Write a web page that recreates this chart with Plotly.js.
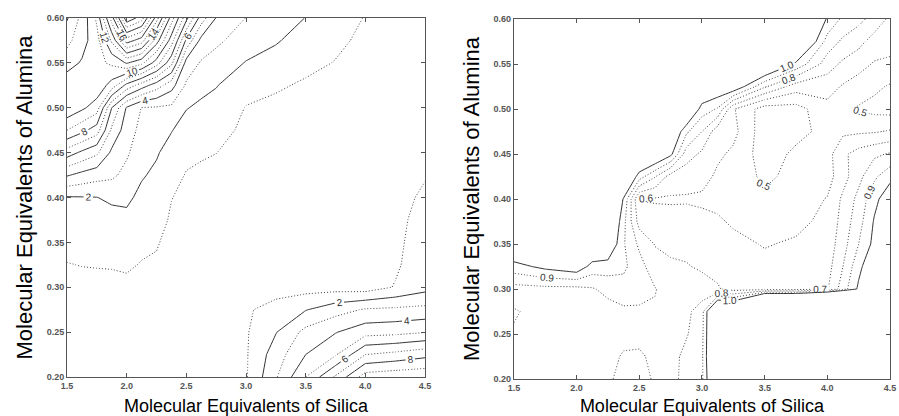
<!DOCTYPE html>
<html>
<head>
<meta charset="utf-8">
<script src="https://cdn.plot.ly/plotly-3.0.1.min.js"></script>
<style>html,body{margin:0;padding:0;background:#fff;}#chart{width:899px;height:416px;}</style>
</head>
<body>
<div id="chart"></div>
<script>
// ---------- Left chart data (response surface, levels 1..20) ----------
var leftX = [1.5, 1.625, 1.75, 1.875, 2.0, 2.125, 2.25, 2.375, 2.5, 2.625, 2.75, 3.0, 3.25, 3.5, 3.75, 4.0, 4.25, 4.5];
var leftY = [0.20, 0.225, 0.25, 0.275, 0.30, 0.325, 0.35, 0.375, 0.40, 0.425, 0.45, 0.475, 0.50, 0.525, 0.55, 0.575, 0.60];
var leftZ = [
  [0.5, 0.5, 0.48, 0.46, 0.45, 0.42, 0.4, 0.38, 0.37, 0.36, 0.35, 0.9, 2.9, 5.0, 7.15, 9.5, 9.7, 9.8],
  [0.55, 0.52, 0.5, 0.48, 0.47, 0.44, 0.42, 0.4, 0.38, 0.37, 0.36, 0.9, 2.5, 4.0, 4.9, 7.0, 7.3, 7.7],
  [0.6, 0.57, 0.55, 0.52, 0.5, 0.47, 0.45, 0.42, 0.4, 0.38, 0.37, 0.9, 1.95, 3.3, 3.95, 4.6, 4.7, 4.95],
  [0.65, 0.64, 0.62, 0.6, 0.58, 0.55, 0.52, 0.48, 0.44, 0.41, 0.39, 0.88, 1.35, 1.95, 2.6, 3.1, 3.2, 3.3],
  [0.75, 0.78, 0.78, 0.8, 0.8, 0.75, 0.7, 0.62, 0.55, 0.5, 0.45, 0.6, 0.6, 0.6, 0.6, 0.5, 1.06, 1.65],
  [0.97, 1.02, 1.04, 1.05, 1.12, 0.95, 0.92, 0.75, 0.62, 0.56, 0.5, 0.55, 0.5, 0.5, 0.48, 0.45, 0.85, 1.6],
  [1.25, 1.28, 1.3, 1.3, 1.4, 1.2, 1.05, 0.82, 0.68, 0.62, 0.55, 0.55, 0.5, 0.48, 0.46, 0.44, 0.8, 1.45],
  [1.55, 1.58, 1.6, 1.6, 1.75, 1.45, 1.3, 0.9, 0.75, 0.68, 0.6, 0.57, 0.5, 0.48, 0.46, 0.44, 0.78, 1.3],
  [1.92, 1.95, 1.98, 2.2, 2.2, 1.75, 1.55, 1.02, 0.83, 0.75, 0.68, 0.6, 0.52, 0.5, 0.47, 0.45, 0.76, 1.12],
  [4.1, 3.7, 3.4, 3.2, 2.7, 2.1, 1.8, 1.3, 0.95, 0.87, 0.8, 0.65, 0.56, 0.53, 0.5, 0.47, 0.75, 0.95],
  [6.5, 5.8, 5.2, 3.8, 3.15, 2.4, 2.1, 1.6, 1.2, 1.08, 1.01, 0.72, 0.62, 0.58, 0.54, 0.5, 0.72, 0.88],
  [9.0, 8.3, 7.5, 4.8, 3.5, 2.7, 2.5, 2.05, 1.55, 1.4, 1.3, 0.82, 0.7, 0.65, 0.6, 0.54, 0.7, 0.82],
  [10.8, 10.2, 9.5, 6.0, 3.9, 2.97, 2.9, 2.8, 2.05, 1.8, 1.65, 0.96, 0.82, 0.75, 0.68, 0.6, 0.7, 0.78],
  [10.6, 10.7, 10.7, 9.6, 7.7, 6.5, 5.5, 4.4, 2.85, 2.3, 2.05, 1.35, 1.1, 0.9, 0.8, 0.67, 0.7, 0.75],
  [9.6, 10.1, 10.7, 11.2, 12.1, 11.3, 9.5, 7.3, 3.6, 2.9, 2.6, 1.95, 1.6, 1.2, 0.97, 0.75, 0.72, 0.72],
  [8.7, 9.6, 10.6, 13.2, 16.5, 15.5, 12.5, 9.5, 5.8, 3.7, 3.2, 2.5, 2.1, 1.55, 1.15, 0.85, 0.75, 0.7],
  [7.9, 9.3, 11.2, 15.5, 20.8, 19.5, 15.5, 11.5, 8.3, 5.5, 3.95, 2.98, 2.5, 1.98, 1.4, 0.96, 0.78, 0.7]
];

// ---------- Right chart data (levels 0.5..1.0) ----------
var rightX = [1.5, 1.75, 2.0, 2.125, 2.25, 2.375, 2.5, 2.625, 2.75, 2.875, 3.0, 3.125, 3.25, 3.5, 3.75, 4.0, 4.125, 4.25, 4.375, 4.5];
var rightY = [0.20, 0.225, 0.25, 0.275, 0.30, 0.325, 0.35, 0.375, 0.40, 0.425, 0.45, 0.475, 0.50, 0.525, 0.55, 0.575, 0.60];
var rightZ = [
  [0.72, 0.74, 0.73, 0.73, 0.72, 0.66, 0.64, 0.72, 0.76, 0.84, 0.88, 1.25, 1.3, 2.4, 2.4, 3.0, 3.0, 2.5, 2.0, 1.5],
  [0.72, 0.74, 0.73, 0.73, 0.73, 0.69, 0.68, 0.73, 0.76, 0.83, 0.88, 1.3, 1.3, 2.4, 2.4, 3.0, 3.0, 2.5, 2.0, 1.5],
  [0.71, 0.74, 0.73, 0.74, 0.74, 0.73, 0.74, 0.75, 0.75, 0.79, 0.87, 1.3, 1.3, 2.4, 2.4, 3.0, 3.0, 2.5, 2.0, 1.5],
  [0.69, 0.74, 0.74, 0.75, 0.76, 0.78, 0.78, 0.79, 0.76, 0.77, 0.86, 1.3, 1.3, 2.4, 2.4, 3.0, 3.0, 2.2, 1.8, 1.5],
  [0.76, 0.77, 0.77, 0.79, 0.83, 0.86, 0.85, 0.805, 0.76, 0.76, 0.73, 0.71, 0.66, 0.65, 0.65, 0.69, 0.85, 1.02, 1.2, 1.4],
  [0.96, 1.03, 1.08, 0.96, 0.95, 0.92, 0.84, 0.74, 0.72, 0.705, 0.69, 0.67, 0.66, 0.62, 0.64, 0.66, 0.8, 0.97, 1.1, 1.3],
  [1.15, 1.2, 1.2, 1.15, 1.12, 0.91, 0.78, 0.695, 0.67, 0.68, 0.67, 0.64, 0.62, 0.595, 0.61, 0.64, 0.76, 0.9, 1.03, 1.25],
  [1.2, 1.25, 1.25, 1.2, 1.2, 0.93, 0.66, 0.64, 0.63, 0.635, 0.63, 0.61, 0.59, 0.56, 0.58, 0.62, 0.74, 0.86, 1.01, 1.15],
  [1.25, 1.3, 1.3, 1.25, 1.25, 0.99, 0.595, 0.59, 0.59, 0.59, 0.58, 0.58, 0.56, 0.52, 0.55, 0.605, 0.72, 0.83, 0.97, 1.07],
  [1.3, 1.35, 1.35, 1.3, 1.3, 1.2, 0.95, 0.809, 0.655, 0.64, 0.64, 0.58, 0.56, 0.48, 0.53, 0.56, 0.66, 0.77, 0.88, 0.97],
  [1.35, 1.4, 1.4, 1.35, 1.35, 1.25, 1.2, 1.15, 1.03, 0.75, 0.68, 0.62, 0.58, 0.45, 0.52, 0.56, 0.68, 0.74, 0.78, 0.81],
  [1.4, 1.45, 1.45, 1.4, 1.4, 1.3, 1.3, 1.25, 1.15, 0.922, 0.8, 0.64, 0.63, 0.44, 0.47, 0.53, 0.58, 0.585, 0.59, 0.61],
  [1.45, 1.5, 1.5, 1.45, 1.45, 1.35, 1.35, 1.3, 1.25, 1.2, 0.9526, 0.89, 0.61, 0.45, 0.46, 0.57, 0.52, 0.49, 0.47, 0.46],
  [1.5, 1.5, 1.5, 1.5, 1.5, 1.4, 1.4, 1.35, 1.3, 1.3, 1.15, 1.1, 1.1, 0.815, 0.65, 0.64, 0.59, 0.55, 0.52, 0.49],
  [1.5, 1.55, 1.55, 1.5, 1.5, 1.45, 1.45, 1.4, 1.35, 1.35, 1.3, 1.25, 1.2, 1.2, 0.978, 0.75, 0.68, 0.64, 0.59, 0.58],
  [1.55, 1.55, 1.55, 1.55, 1.55, 1.5, 1.5, 1.45, 1.4, 1.4, 1.4, 1.35, 1.3, 1.4, 1.25, 0.86, 0.78, 0.73, 0.66, 0.64],
  [1.6, 1.6, 1.6, 1.6, 1.6, 1.55, 1.5, 1.5, 1.45, 1.45, 1.45, 1.45, 1.4, 1.6, 1.5, 0.98, 0.88, 0.83, 0.76, 0.68]
];

var xTitle = "Molecular Equivalents of Silica";
var yTitle = "Molecular Equivalents of Alumina";

var FONT = "Liberation Sans, Arial, sans-serif";
var labelFont = {family: FONT, size: 10, color: "#333"};
var DOTTED = "1px,2px";

function contourTrace(x, y, z, xa, ya, start, end, size, dash, showLabels, fmt) {
  return {
    type: "contour", x: x, y: y, z: z, xaxis: xa, yaxis: ya,
    autocontour: false, showscale: false, hoverinfo: "skip",
    contours: {coloring: "none", start: start, end: end, size: size,
               showlabels: showLabels, labelfont: labelFont, labelformat: fmt},
    line: {color: dash === "solid" ? "#333" : "#444", width: 1, dash: dash, smoothing: 0}
  };
}

var traces = [
  contourTrace(leftX, leftY, leftZ, "x", "y", 1, 21, 2, DOTTED, false, ".0f"),
  contourTrace(leftX, leftY, leftZ, "x", "y", 2, 20, 2, "solid", true, ".0f"),
  contourTrace(rightX, rightY, rightZ, "x2", "y2", 0.5, 0.95, 0.1, DOTTED, true, ".1f"),
  contourTrace(rightX, rightY, rightZ, "x2", "y2", 1.0, 1.05, 0.1, "solid", true, ".1f")
];

var tickFont = {family: FONT, size: 9, color: "#555", weight: "bold"};

function xAxis(domain, anchor) {
  return {domain: domain, anchor: anchor, range: [1.5, 4.5], dtick: 0.5, tick0: 1.5, tickformat: ".1f",
    showline: true, linecolor: "#555", linewidth: 1, mirror: "ticks", ticks: "inside", ticklen: 4,
    tickcolor: "#555", showgrid: false, zeroline: false, tickfont: tickFont,
    title: {text: xTitle, font: {family: FONT, size: 18, color: "#000"}, standoff: 10}};
}
function yAxis(domain, anchor) {
  return {domain: domain, anchor: anchor, range: [0.2, 0.6], dtick: 0.05, tick0: 0.2, tickformat: ".2f",
    showline: true, linecolor: "#555", linewidth: 1, mirror: "ticks", ticks: "inside", ticklen: 4,
    tickcolor: "#555", showgrid: false, zeroline: false, tickfont: tickFont,
    title: {text: yTitle, font: {family: FONT, size: 22, color: "#000"}, standoff: 7}};
}

var layout = {
  width: 899, height: 416,
  margin: {l: 67, r: 9, t: 18, b: 37},
  paper_bgcolor: "#fff", plot_bgcolor: "#fff",
  showlegend: false,
  xaxis: xAxis([0, 0.435], "y"),
  yaxis: yAxis([0.0055, 1], "x"),
  xaxis2: xAxis([0.543, 1], "y2"),
  yaxis2: yAxis([0, 0.9972], "x2")
};

Plotly.newPlot("chart", traces, layout, {staticPlot: true, displayModeBar: false});
</script>
</body>
</html>
